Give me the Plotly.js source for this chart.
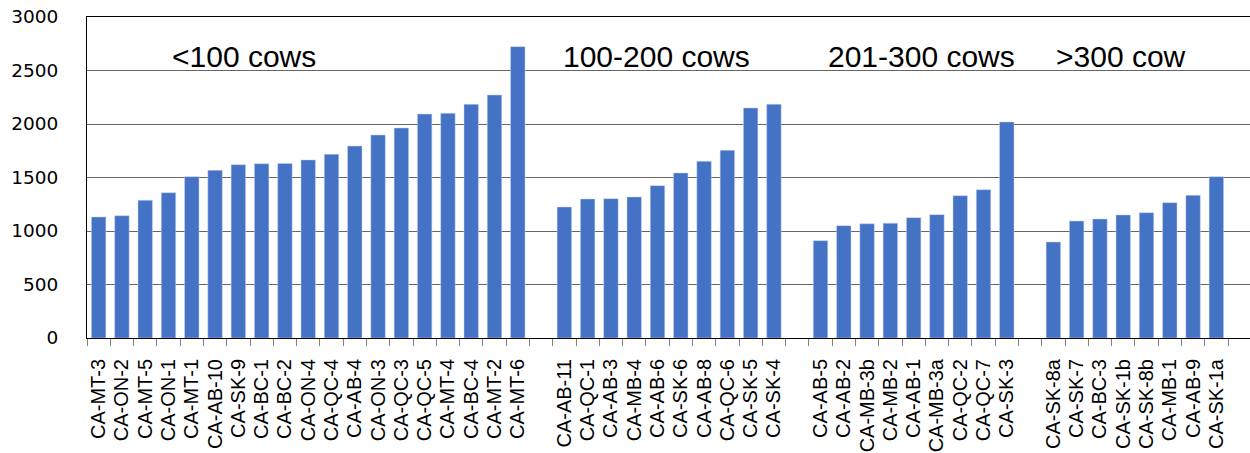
<!DOCTYPE html>
<html>
<head>
<meta charset="utf-8">
<script src="https://cdn.plot.ly/plotly-3.0.1.min.js"></script>
<style>html,body{margin:0;padding:0;background:#fff;}#chart{width:1250px;height:453px;}</style>
</head>
<body>
<div id="chart"></div>
<script>
// Group 1: <100 cows
const labelsSmall = ["CA-MT-3","CA-ON-2","CA-MT-5","CA-ON-1","CA-MT-1","CA-AB-10","CA-SK-9","CA-BC-1","CA-BC-2","CA-ON-4","CA-QC-4","CA-AB-4","CA-ON-3","CA-QC-3","CA-QC-5","CA-MT-4","CA-BC-4","CA-MT-2","CA-MT-6"];
const valuesSmall = [1131,1143,1287,1358,1508,1567,1620,1629,1632,1664,1717,1794,1897,1963,2093,2100,2184,2271,2723];
// Group 2: 100-200 cows
const labelsMid = ["CA-AB-11","CA-QC-1","CA-AB-3","CA-MB-4","CA-AB-6","CA-SK-6","CA-AB-8","CA-QC-6","CA-SK-5","CA-SK-4"];
const valuesMid = [1224,1299,1302,1318,1424,1542,1651,1754,2150,2184];
// Group 3: 201-300 cows
const labelsLarge = ["CA-AB-5","CA-AB-2","CA-MB-3b","CA-MB-2","CA-AB-1","CA-MB-3a","CA-QC-2","CA-QC-7","CA-SK-3"];
const valuesLarge = [910,1050,1068,1072,1125,1153,1330,1386,2019];
// Group 4: >300 cows
const labelsXL = ["CA-SK-8a","CA-SK-7","CA-BC-3","CA-SK-1b","CA-SK-8b","CA-MB-1","CA-AB-9","CA-SK-1a"];
const valuesXL = [897,1093,1112,1150,1171,1265,1333,1508];
// Group titles
const groupTitles = ["<100 cows","100-200 cows","201-300 cows",">300 cow"];
const yTicks = [0,500,1000,1500,2000,2500,3000];

// Combine groups with one empty category between them
const groups = [[labelsSmall,valuesSmall],[labelsMid,valuesMid],[labelsLarge,valuesLarge],[labelsXL,valuesXL]];
const cats = [], vals = [];
groups.forEach((g,i)=>{
  if(i>0){ cats.push(" ".repeat(i)); vals.push(null); }
  g[0].forEach((l,j)=>{ cats.push(l); vals.push(g[1][j]); });
});

const plotLeft = 87, plotRight = 1250, slot = (1228 - 87) / cats.length;
const xMax = -0.5 + (plotRight - plotLeft) / slot;

const titleX = [170, 561, 826, 1054];
const annotations = groupTitles.map((t,i)=>({
  text: t, xref: 'paper', yref: 'paper',
  x: (titleX[i]-plotLeft)/(plotRight-plotLeft), y: (338-56)/321,
  xanchor: 'left', yanchor: 'middle', showarrow: false,
  font: {family: 'Liberation Sans, Arial, sans-serif', size: 30, color: '#000'}
}));

const trace = {
  type: 'bar', x: cats, y: vals,
  marker: {color: '#4472C4', line: {color: '#c7d3ee', width: 0.5}},
  hoverinfo: 'x+y'
};

const layout = {
  width: 1250, height: 453,
  margin: {l: plotLeft, r: 0, t: 17, b: 115, pad: 0},
  paper_bgcolor: '#fff', plot_bgcolor: '#fff',
  bargap: 0.38,
  showlegend: false,
  xaxis: {
    type: 'category', range: [-0.5, xMax],
    tickmode: 'array', tickvals: cats, ticktext: cats,
    tickson: 'boundaries', ticks: 'outside', ticklen: 7, tickwidth: 1, tickcolor: '#808080',
    ticklabelstandoff: 12,
    showgrid: false, showline: true, linecolor: '#000', linewidth: 1, mirror: true,
    tickangle: -90, tickfont: {family: 'Liberation Sans, Arial, sans-serif', size: 20, color: '#000'},
    fixedrange: true, zeroline: false
  },
  yaxis: {
    range: [0, 3000], tickvals: yTicks, ticktext: yTicks.map(String),
    showgrid: true, gridcolor: '#666', gridwidth: 1,
    showline: true, linecolor: '#000', linewidth: 1,
    ticks: '', ticklabelstandoff: 24,
    tickfont: {family: 'DejaVu Sans, sans-serif', size: 18.5, color: '#000'},
    zeroline: false, fixedrange: true
  },
  annotations: annotations
};

Plotly.newPlot('chart', [trace], layout, {displayModeBar: false, staticPlot: true});
</script>
</body>
</html>
